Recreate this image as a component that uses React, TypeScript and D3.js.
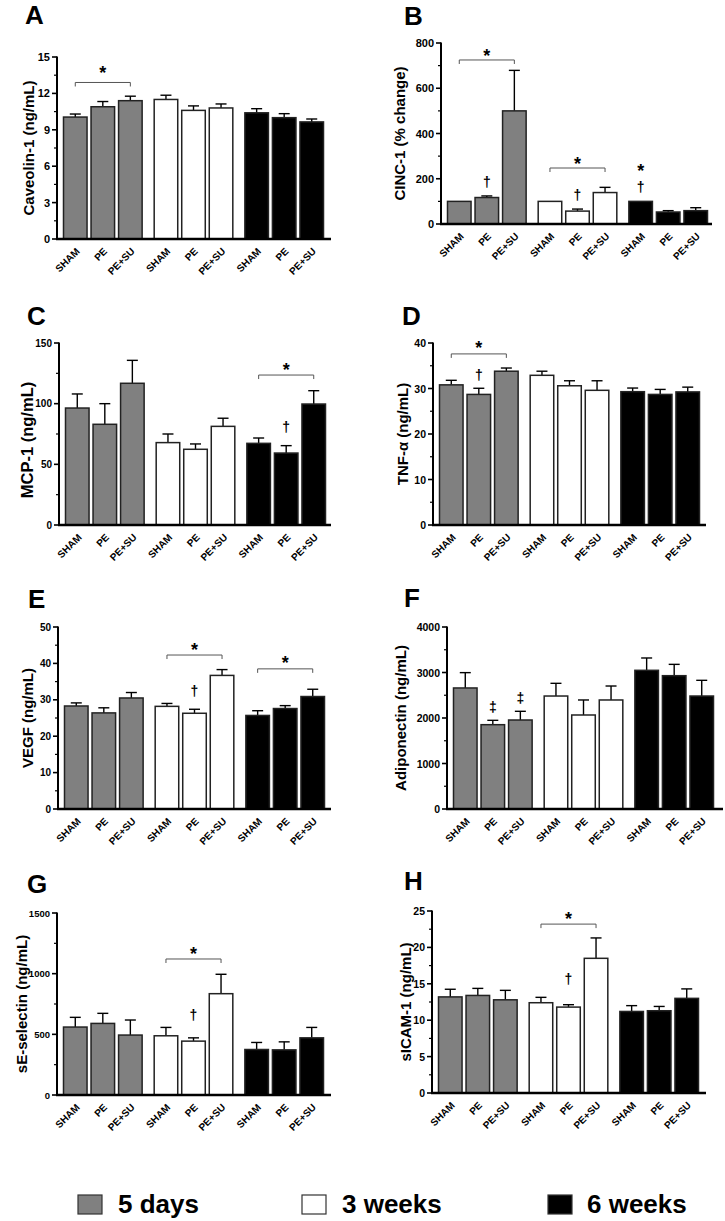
import React from 'react';
import * as d3 from 'd3';

const groups = ['5 days', '3 weeks', '6 weeks'];
const conditions = ['SHAM', 'PE', 'PE+SU'];
const groupFills = ['#808080', '#ffffff', '#000000'];

// Values (bar order: 5d SHAM, PE, PE+SU, 3w SHAM, PE, PE+SU, 6w SHAM, PE, PE+SU)
const caveolinMean = [10.05, 10.9, 11.4, 11.5, 10.6, 10.8, 10.4, 10.0, 9.65];
const caveolinSem = [0.25, 0.43, 0.37, 0.35, 0.37, 0.33, 0.34, 0.33, 0.24];
const caveolinTicks = [0, 3, 6, 9, 12, 15];

const cincMean = [100, 117, 500, 100, 57, 139, 100, 53, 59];
const cincSem = [0, 7, 179, 0, 9, 23, 0, 6, 13];
const cincTicks = [0, 200, 400, 600, 800];

const mcpMean = [96.4, 83, 116.8, 67.9, 62.4, 81.3, 67.3, 59.3, 99.7];
const mcpSem = [11.6, 17, 18.9, 7.1, 4.4, 6.7, 4.4, 6.1, 11];
const mcpTicks = [0, 50, 100, 150];

const tnfMean = [30.8, 28.7, 33.8, 32.9, 30.6, 29.6, 29.3, 28.7, 29.25];
const tnfSem = [1.0, 1.35, 0.7, 0.9, 1.1, 2.1, 0.8, 1.1, 1.05];
const tnfTicks = [0, 10, 20, 30, 40];

const vegfMean = [28.3, 26.4, 30.5, 28.2, 26.3, 36.7, 25.7, 27.6, 30.9];
const vegfSem = [0.85, 1.4, 1.5, 0.8, 1.1, 1.6, 1.3, 0.8, 2.0];
const vegfTicks = [0, 10, 20, 30, 40, 50];

const adipoMean = [2660, 1853, 1956, 2483, 2066, 2396, 3048, 2930, 2483];
const adipoSem = [337, 96, 191, 279, 330, 307, 271, 249, 345];
const adipoTicks = [0, 1000, 2000, 3000, 4000];

const selectinMean = [560, 590, 494, 488, 444, 835, 375, 372, 471];
const selectinSem = [80, 83, 124, 69, 27, 160, 58, 66, 86];
const selectinTicks = [0, 500, 1000, 1500];

const sicamMean = [13.2, 13.4, 12.8, 12.4, 11.8, 18.5, 11.2, 11.3, 13.0];
const sicamSem = [1.05, 0.97, 1.3, 0.74, 0.33, 2.8, 0.8, 0.59, 1.3];
const sicamTicks = [0, 5, 10, 15, 20, 25];

// Significance brackets: bar indices, bracket level and star level in data units
const caveolinBrackets = [{ from: 0, to: 2, y: 12.9, starY: 14.0 }];
const cincBrackets = [{ from: 0, to: 2, y: 725, starY: 760 }, { from: 3, to: 5, y: 247.5, starY: 283 }];
const mcpBrackets = [{ from: 6, to: 8, y: 123.6, starY: 131 }];
const tnfBrackets = [{ from: 0, to: 2, y: 37.6, starY: 39.8 }];
const vegfBrackets = [{ from: 3, to: 5, y: 42.3, starY: 44.8 }, { from: 6, to: 8, y: 38.5, starY: 41.2 }];
const adipoBrackets: any[] = [];
const selectinBrackets = [{ from: 3, to: 5, y: 1121, starY: 1195 }];
const sicamBrackets = [{ from: 3, to: 5, y: 23.2, starY: 24.45 }];

// Symbol marks above bars
const caveolinMarks: any[] = [];
const cincMarks = [
  { bar: 1, y: 181, symbol: '†' },
  { bar: 4, y: 124, symbol: '†' },
  { bar: 6, y: 159, symbol: '†' },
  { bar: 6, y: 252, symbol: '*' },
];
const mcpMarks = [{ bar: 7, y: 80, symbol: '†' }];
const tnfMarks = [{ bar: 1, y: 32.7, symbol: '†' }];
const vegfMarks = [{ bar: 4, y: 32.1, symbol: '†' }];
const adipoMarks = [
  { bar: 1, y: 2220, symbol: '‡' },
  { bar: 2, y: 2418, symbol: '‡' },
];
const selectinMarks = [{ bar: 4, y: 651, symbol: '†' }];
const sicamMarks = [{ bar: 4, y: 15.5, symbol: '†' }];

const panelData = [
  { letter: 'A', label: 'Caveolin-1 (ng/mL)', mean: caveolinMean, sem: caveolinSem, ticks: caveolinTicks, brackets: caveolinBrackets, marks: caveolinMarks },
  { letter: 'B', label: 'CINC-1 (% change)', mean: cincMean, sem: cincSem, ticks: cincTicks, brackets: cincBrackets, marks: cincMarks },
  { letter: 'C', label: 'MCP-1 (ng/mL)', mean: mcpMean, sem: mcpSem, ticks: mcpTicks, brackets: mcpBrackets, marks: mcpMarks },
  { letter: 'D', label: 'TNF-α (ng/mL)', mean: tnfMean, sem: tnfSem, ticks: tnfTicks, brackets: tnfBrackets, marks: tnfMarks },
  { letter: 'E', label: 'VEGF (ng/mL)', mean: vegfMean, sem: vegfSem, ticks: vegfTicks, brackets: vegfBrackets, marks: vegfMarks },
  { letter: 'F', label: 'Adiponectin (ng/mL)', mean: adipoMean, sem: adipoSem, ticks: adipoTicks, brackets: adipoBrackets, marks: adipoMarks },
  { letter: 'G', label: 'sE-selectin (ng/mL)', mean: selectinMean, sem: selectinSem, ticks: selectinTicks, brackets: selectinBrackets, marks: selectinMarks },
  { letter: 'H', label: 'sICAM-1 (ng/mL)', mean: sicamMean, sem: sicamSem, ticks: sicamTicks, brackets: sicamBrackets, marks: sicamMarks },
];

// Layout (pixel positions)
const layouts = [
  { x0: 57, x1: 331, yTop: 57, yBot: 239, lx: 25, ly: 24, labelX: 28, labelDy: 0, labelF: 15, tf: 11 },
  { x0: 441, x1: 712, yTop: 43, yBot: 224, lx: 404, ly: 25, labelX: 399, labelDy: 0, labelF: 15, tf: 11 },
  { x0: 59, x1: 331, yTop: 343, yBot: 525, lx: 27, ly: 325, labelX: 27, labelDy: 6, labelF: 16.5, tf: 10 },
  { x0: 433, x1: 706, yTop: 343, yBot: 525, lx: 402, ly: 325, labelX: 402, labelDy: 0, labelF: 15, tf: 10.5 },
  { x0: 58, x1: 331, yTop: 627, yBot: 809, lx: 28, ly: 608, labelX: 27, labelDy: 0, labelF: 15, tf: 10 },
  { x0: 447, x1: 723, yTop: 627, yBot: 809, lx: 404, ly: 607, labelX: 400, labelDy: 0, labelF: 15, tf: 10.5 },
  { x0: 57, x1: 331, yTop: 913, yBot: 1095, lx: 27, ly: 893, labelX: 21, labelDy: 0, labelF: 15, tf: 9.5 },
  { x0: 432, x1: 706, yTop: 911, yBot: 1093, lx: 404, ly: 890, labelX: 405, labelDy: 0, labelF: 15, tf: 10.5 },
];

const FONT = "'Liberation Sans', Arial, Helvetica, sans-serif";

function Panel({ d, l }: { d: any; l: any }) {
  const yMax = d.ticks[d.ticks.length - 1];
  const y = d3.scaleLinear().domain([0, yMax]).range([l.yBot, l.yTop]);
  const xg = d3.scaleBand().domain(groups).range([l.x0 + 6.5, l.x0 + 266.5]).paddingInner(0.133).paddingOuter(0);
  const xc = d3.scaleBand().domain(conditions).range([0, xg.bandwidth()]).paddingInner(0.145).paddingOuter(0);
  const bw = xc.bandwidth();
  const barX = (i: number) => (xg(groups[Math.floor(i / 3)]) as number) + (xc(conditions[i % 3]) as number);
  const barC = (i: number) => barX(i) + bw / 2;

  const minorTicks: number[] = [];
  for (let k = 0; k < d.ticks.length - 1; k++) {
    minorTicks.push((d.ticks[k] + d.ticks[k + 1]) / 2);
  }

  return (
    <g fontFamily={FONT} fill="#000">
      <text x={l.lx} y={l.ly} fontSize={26} fontWeight="bold" fill="#000">{d.letter}</text>
      <text
        transform={`translate(${l.labelX},${(l.yTop + l.yBot) / 2 + l.labelDy}) rotate(-90)`}
        textAnchor="middle"
        dominantBaseline="central"
        fontSize={l.labelF}
        fontWeight="bold"
        fill="#000"
      >{d.label}</text>
      {/* bars */}
      {d.mean.map((v: number, i: number) => (
        <g key={i}>
          {d.sem[i] > 0 && (
            <g stroke="#000" strokeWidth={1.4}>
              <line x1={barC(i)} x2={barC(i)} y1={y(v)} y2={y(v + d.sem[i])} />
              <line x1={barC(i) - 5.5} x2={barC(i) + 5.5} y1={y(v + d.sem[i])} y2={y(v + d.sem[i])} />
            </g>
          )}
          <rect
            x={barX(i)}
            y={y(v)}
            width={bw}
            height={l.yBot - y(v)}
            fill={groupFills[Math.floor(i / 3)]}
            stroke="#222"
            strokeWidth={1.5}
          />
        </g>
      ))}
      {/* y axis */}
      <line x1={l.x0} x2={l.x0} y1={l.yTop - 0.5} y2={l.yBot} stroke="#000" strokeWidth={2} />
      {d.ticks.map((t: number) => (
        <g key={'t' + t}>
          <line x1={l.x0 - 5} x2={l.x0} y1={y(t)} y2={y(t)} stroke="#000" strokeWidth={1.6} />
          <text x={l.x0 - 7} y={y(t)} textAnchor="end" dominantBaseline="central" fontSize={l.tf} fontWeight="bold" fill="#000">{t}</text>
        </g>
      ))}
      {minorTicks.map((t, k) => (
        <line key={'m' + k} x1={l.x0 - 3} x2={l.x0} y1={y(t)} y2={y(t)} stroke="#000" strokeWidth={1.2} />
      ))}
      {/* x axis */}
      <line x1={l.x0 - 1} x2={l.x1} y1={l.yBot} y2={l.yBot} stroke="#000" strokeWidth={2.5} />
      {d.mean.map((_: number, i: number) => (
        <text
          key={'x' + i}
          transform={`translate(${barC(i) + 5},${l.yBot + 13}) rotate(-45)`}
          textAnchor="end"
          fontSize={10}
          fontWeight="bold"
          fill="#000"
        >{conditions[i % 3]}</text>
      ))}
      {/* brackets */}
      {d.brackets.map((b: any, k: number) => {
        const by = y(b.y);
        const xa = barC(b.from), xb = barC(b.to);
        return (
          <g key={'b' + k}>
            <path d={`M${xa},${by + 4}V${by}H${xb}V${by + 4}`} fill="none" stroke="#555" strokeWidth={1} />
            <text x={(xa + xb) / 2} y={y(b.starY) + 10} textAnchor="middle" fontSize={18} fontWeight="bold" fill="#000">*</text>
          </g>
        );
      })}
      {d.marks.map((m: any, k: number) => (
        <text
          key={'k' + k}
          x={barC(m.bar)}
          y={y(m.y) + (m.symbol === '*' ? 10 : 4)}
          textAnchor="middle"
          fontSize={m.symbol === '*' ? 18 : 14}
          fontWeight="bold"
          fill="#000"
        >{m.symbol}</text>
      ))}
    </g>
  );
}

const legendPos = [
  { sx: 78, tx: 118 },
  { sx: 302, tx: 342 },
  { sx: 548, tx: 587 },
];

export default function App() {
  return (
    <svg
      width={725}
      height={1221}
      viewBox="0 0 725 1221"
      style={{ position: 'absolute', left: 0, top: 0, background: '#fff', display: 'block' }}
    >
      <rect x={0} y={0} width={725} height={1221} fill="#fff" />
      {panelData.map((d, i) => (
        <Panel key={d.letter} d={d} l={layouts[i]} />
      ))}
      <g fontFamily={FONT}>
        {groups.map((g, i) => (
          <g key={g}>
            <rect x={legendPos[i].sx} y={1195} width={24} height={19} fill={groupFills[i]} stroke="#333" strokeWidth={1.2} />
            <text x={legendPos[i].tx} y={1213} fontSize={26} fontWeight="bold" fill="#000">{g}</text>
          </g>
        ))}
      </g>
    </svg>
  );
}
